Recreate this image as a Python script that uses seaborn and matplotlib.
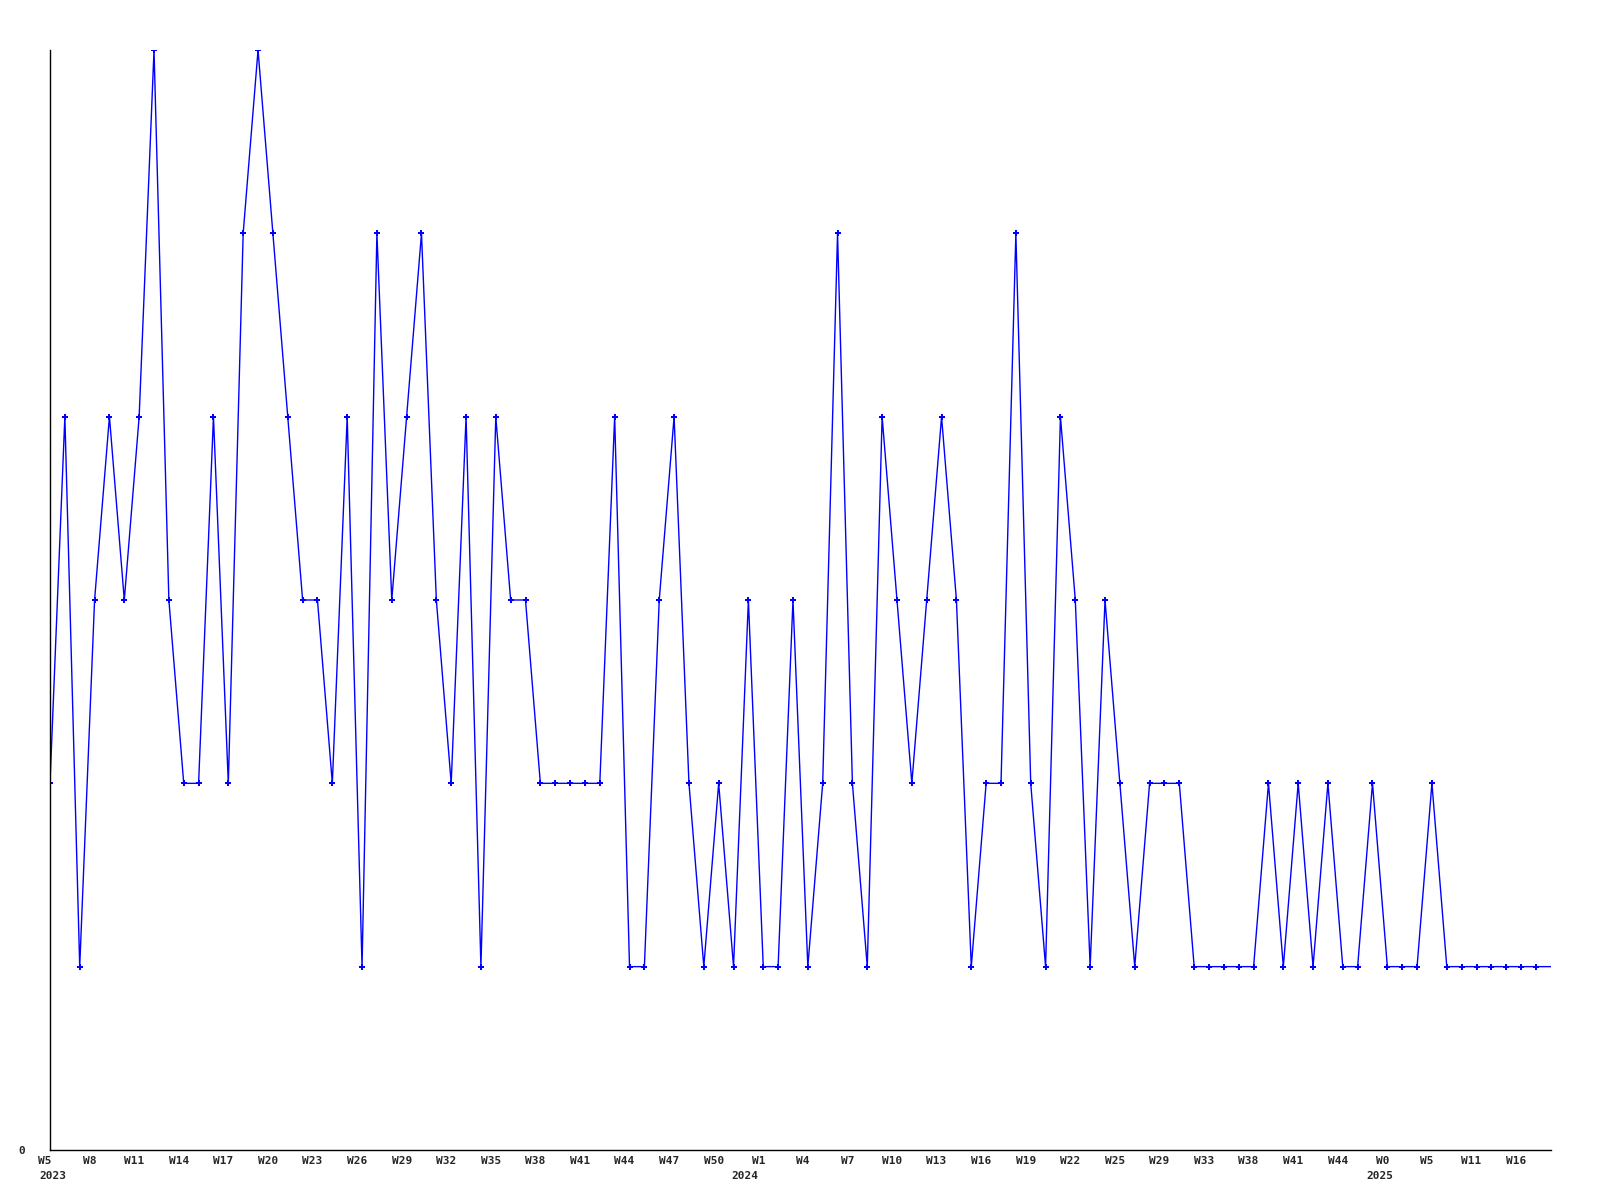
import numpy as np
import pandas as pd
import matplotlib
matplotlib.use("Agg")
import matplotlib.pyplot as plt
import seaborn as sns

# ===============================
# DATA
# ===============================
values = [
    2, 4, 1, 3, 4, 3, 4, 6, 3, 2,
    2, 4, 2, 5, 6, 5, 4, 3, 3, 2,
    4, 1, 5, 3, 4, 5, 3, 2, 4, 1,
    4, 3, 3, 2, 2, 2, 2, 2, 4, 1,
    1, 3, 4, 2, 1, 2, 1, 3, 1, 1,
    3, 1, 2, 5, 2, 1, 4, 3, 2, 3,
    4, 3, 1, 2, 2, 5, 2, 1, 4, 3,
    1, 3, 2, 1, 2, 2, 2, 1, 1, 1,
    1, 1, 2, 1, 2, 1, 2, 1, 1, 2,
    1, 1, 1, 2, 1, 1, 1, 1, 1, 1,
    1, 1,
]

week_labels = [
    "W5", "W8", "W11", "W14", "W17", "W20", "W23", "W26", "W29", "W32",
    "W35", "W38", "W41", "W44", "W47", "W50", "W1", "W4", "W7", "W10",
    "W13", "W16", "W19", "W22", "W25", "W29", "W33", "W38", "W41", "W44",
    "W0", "W5", "W11", "W16",
]
year_ticks = [0, 16, 30]          # index into week_labels
year_labels = ["2023", "2024", "2025"]
year_dx_px = [-11, -32, -21]      # left edge of year text vs. its tick

df = pd.DataFrame({"idx": np.arange(len(values)), "value": values})

# ===============================
# PLOT
# ===============================
sns.set_style("white")
plt.rcParams["font.family"] = ["DejaVu Sans Mono"]
PX = 0.72  # points per pixel at dpi 100

fig = plt.figure(figsize=(16, 12), dpi=100)
ax = fig.add_axes([0.03125, 0.0417, 0.938, 0.9166])

sns.lineplot(
    data=df, x="idx", y="value", ax=ax,
    color="#0000ff", linewidth=1.0,
    marker="P", markersize=5, markeredgewidth=0,
    markevery=list(range(len(values) - 1)),
)

ax.set_xlim(0, len(values) - 1)
ax.set_ylim(0, 6)

tick_pos = list(range(0, len(values), 3))
ax.set_xticks(tick_pos)
ax.set_xticklabels([])

# week labels, a little left of their point
for p, w in zip(tick_pos, week_labels):
    ax.annotate(w, xy=(p, 0), xycoords=("data", "axes fraction"),
                xytext=(-5 * PX, -6 * PX), textcoords="offset points",
                ha="center", va="top", fontsize=8, fontweight="bold",
                annotation_clip=False)

# year line under the week labels
for i, yr, dx in zip(year_ticks, year_labels, year_dx_px):
    ax.annotate(yr, xy=(tick_pos[i], 0), xycoords=("data", "axes fraction"),
                xytext=(dx * PX, -21 * PX), textcoords="offset points",
                ha="left", va="top", fontsize=8, fontweight="bold",
                annotation_clip=False)

ax.set_yticks([0])
ax.set_yticklabels(["0"], fontsize=8, fontweight="bold")
ax.tick_params(axis="both", length=0)
ax.tick_params(axis="y", pad=18)

sns.despine(ax=ax, top=True, right=True)
for s in ["left", "bottom"]:
    ax.spines[s].set_color("black")
    ax.spines[s].set_linewidth(1.0)
ax.set_xlabel("")
ax.set_ylabel("")

fig.savefig("out.png", dpi=100, facecolor="white")
